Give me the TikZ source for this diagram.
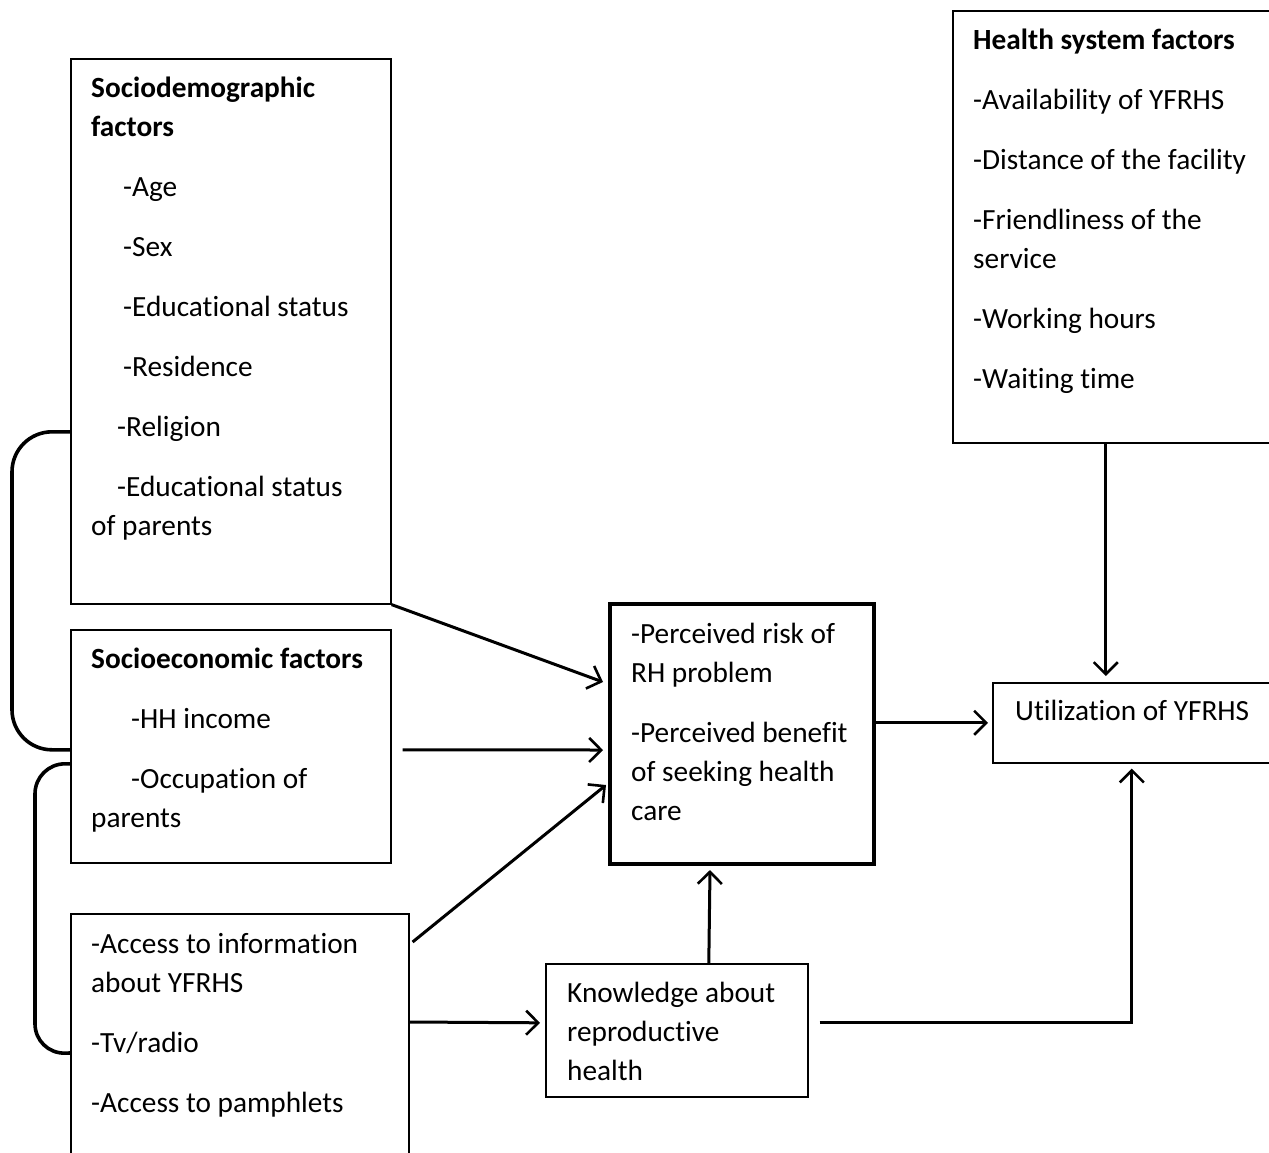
\documentclass[tikz,border=0pt]{standalone}
\usepackage{fontspec}
\setmainfont{Carlito}[Ligatures=CommonOff]
\usetikzlibrary{arrows.meta,calc}
\tikzset{
  box/.style={draw=black, line width=1.6pt, rectangle, anchor=north west, inner sep=0pt},
  mainbox/.style={box, line width=4pt},
  txt/.style={align=left, inner sep=0pt, anchor=north west, font=\fontsize{29.3}{39}\selectfont},
  arr/.style={line width=3pt, -{Straight Barb[length=12pt,width=24pt,line width=2.6pt]}},
  brace/.style={line width=3.6pt, line cap=round}
}
\begin{document}
\begin{tikzpicture}[x=1pt,y=1pt]
\clip (0,0) rectangle (1269,-1152);
\useasboundingbox (0,0) rectangle (1269,-1152);
% boxes
\node[box, minimum width=320pt, minimum height=545pt] (sd) at (70,-58) {};
\node[box, minimum width=320pt, minimum height=233pt] (se) at (70,-629) {};
\node[box, minimum width=338pt, minimum height=300pt] (ac) at (70,-913) {};
\node[mainbox, minimum width=264pt, minimum height=260pt] (cd) at (608,-602) {};
\node[box, minimum width=262pt, minimum height=133pt] (kn) at (545,-963) {};
\node[box, minimum width=320pt, minimum height=80pt] (fu) at (992,-682) {};
\node[box, minimum width=317pt, minimum height=432pt] (hs) at (952,-10) {};
% texts
\node[txt] (sdt) at ($(sd.north west)+(21,-19)$) {\textbf{Sociodemographic}\\\textbf{factors}\\[21pt]
\hspace*{32pt}-Age\\[21pt]
\hspace*{32pt}-Sex\\[21pt]
\hspace*{32pt}-Educational status\\[21pt]
\hspace*{32pt}-Residence\\[21pt]
\hspace*{26pt}-Religion\\[21pt]
\hspace*{26pt}-Educational status\\
of parents};
\node[txt] (set) at ($(se.north west)+(21,-19)$) {\textbf{Socioeconomic factors}\\[21pt]
\hspace*{40pt}-HH income\\[21pt]
\hspace*{40pt}-Occupation of\\
parents};
\node[txt] (act) at ($(ac.north west)+(21,-20)$) {-Access to information\\about YFRHS\\[21pt]
-Tv/radio\\[21pt]
-Access to pamphlets};
\node[txt] (cdt) at ($(cd.north west)+(23,-21)$) {-Perceived risk of\\RH problem\\[21pt]
-Perceived benefit\\of seeking health\\care};
\node[txt] (knt) at ($(kn.north west)+(22,-19)$) {Knowledge about\\reproductive\\health};
\node[txt] (fut) at ($(fu.north west)+(23,-18)$) {Utilization of YFRHS};
\node[txt] (hst) at ($(hs.north west)+(21,-19)$) {\textbf{Health system factors}\\[21pt]
-Availability of YFRHS\\[21pt]
-Distance of the facility\\[21pt]
-Friendliness of the\\service\\[21pt]
-Working hours\\[21pt]
-Waiting time};
% connectors
\draw[arr] (sd.south east) -- ([yshift=52pt, xshift=-5pt]cd.west);
\draw[arr] ([xshift=11pt, yshift=-3.5pt]se.east) -- ([yshift=-16pt, xshift=-5pt]cd.west);
\draw[arr] ([xshift=3pt, yshift=-29pt]ac.north east) -- ([yshift=-51pt, xshift=-2pt]cd.west);
\draw[arr] ([yshift=-109pt]ac.north east) -- ([yshift=7.5pt, xshift=-5pt]kn.west);
\draw[arr] ([xshift=32pt]kn.north) -- ([xshift=-32pt, yshift=-4pt]cd.south);
\draw[arr] (cd.east |- fu.west) -- ([xshift=-4pt]fu.west);
\coordinate (gf) at ([xshift=-5.5pt]hs.south |- fu.north);
\draw[arr] ([xshift=-5.5pt]hs.south) -- ([yshift=6pt]gf);
\coordinate (kncorner) at ([xshift=-21pt]fu.south |- kn.east);
\draw[arr] ([xshift=11pt, yshift=7.5pt]kn.east) -- ([yshift=7.5pt]kncorner) -- ([xshift=-21pt, yshift=-5pt]fu.south);
% brackets
\draw[brace, rounded corners=40pt] ([yshift=-100.5pt]sd.west) -- ++(-58,0) -- ++(0,-318) -- ([yshift=-3.5pt]se.west);
\draw[brace, rounded corners=30pt] ([yshift=-17.5pt]se.west) -- ++(-35,0) -- ++(0,-290) -- ([yshift=-140pt]ac.north west);
\end{tikzpicture}
\end{document}
